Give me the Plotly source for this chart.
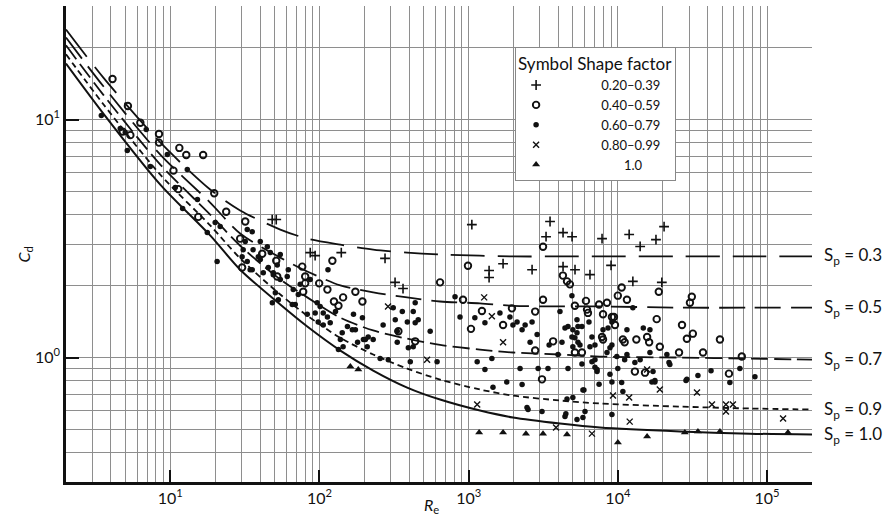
import math
import plotly.graph_objects as go

# Drag curves: Cd against particle Reynolds number for five sphericities
curve_re = [2.0, 3.56, 8.57, 18.5, 29.4, 54.6, 82.8, 138, 229, 387, 643, 1190,
            1980, 4090, 7580, 26100, 76700, 200000]
cd_sp03 = [23.9, 15.0, 8.01, 5.08, 4.15, 3.45, 3.16, 2.98, 2.84, 2.76, 2.71, 2.68,
           2.66, 2.66, 2.66, 2.66, 2.66, 2.66]
cd_sp05 = [22.1, 13.8, 7.13, 4.48, 3.32, 2.63, 2.30, 2.01, 1.88, 1.79, 1.72, 1.69,
           1.65, 1.64, 1.64, 1.62, 1.62, 1.62]
cd_sp07 = [20.5, 12.7, 6.47, 3.99, 2.95, 2.13, 1.79, 1.47, 1.30, 1.20, 1.13, 1.08,
           1.05, 1.03, 1.01, 1.00, 0.99, 0.98]
cd_sp09 = [18.8, 11.6, 5.87, 3.59, 2.61, 1.84, 1.50, 1.21, 1.03, 0.899, 0.808, 0.734,
           0.692, 0.660, 0.641, 0.622, 0.611, 0.605]
cd_sp10 = [17.2, 10.6, 5.33, 3.26, 2.34, 1.67, 1.35, 1.07, 0.882, 0.748, 0.666, 0.599,
           0.560, 0.528, 0.508, 0.489, 0.479, 0.475]
curve_labels = ["0.3", "0.5", "0.7", "0.9", "1.0"]

# Measured particles, grouped by shape factor
plus_re = [48.2, 51.3, 86.7, 93.5, 140, 275, 321, 363, 1050, 1370, 1370, 1700, 2660,
           3300, 3510, 4290, 4930, 4290, 5160, 6500, 7830, 9000, 11900, 12600, 14100,
           18000, 20400, 19700]
plus_cd = [3.80, 3.80, 2.76, 2.68, 2.76, 2.61, 2.07, 1.95, 3.62, 2.32, 2.17, 2.48, 2.34,
           3.22, 3.73, 3.35, 3.22, 2.41, 2.34, 2.23, 3.16, 2.44, 3.29, 2.09, 2.93,
           3.13, 3.55, 2.07]

circ_re = [4.1, 5.2, 4.8, 5.4, 6.3, 8.4, 8.4, 11.5, 12.8, 16.6, 10.5, 11.3, 19.7, 15.4,
           23.7, 29.4, 30.3, 31.8, 41.3, 51.3, 52.1, 76.6, 80.2, 80.2, 77.8, 99.5, 113,
           122, 125, 134, 144, 174, 194, 338, 438, 643, 989, 916, 1036, 1227, 1700,
           1950, 2790, 3150, 3150, 2790, 3680, 3100, 4280, 4560, 4770, 5150, 6110, 6300,
           5150, 5740, 7480, 7950, 8450, 9410, 9560, 9990, 10600, 11500, 11100, 13300,
           15700, 16200, 15200, 13000, 18800, 18200, 19100, 25700, 26900, 29000, 31800,
           31300, 30400, 37200, 48300, 55500, 67700, 6210, 9120, 7830, 7950, 10800]
circ_cd = [14.8, 11.4, 8.9, 8.6, 9.7, 8.7, 8.0, 7.6, 7.1, 7.1, 6.1, 5.1, 4.9, 3.9,
           4.1, 3.16, 2.39, 3.73, 2.73, 2.55, 2.19, 2.41, 2.19, 2.05, 1.89, 2.05, 1.93,
           2.55, 1.72, 1.65, 1.79, 1.89, 1.72, 1.29, 1.17, 2.07, 2.43, 1.75, 1.32, 1.57,
           1.37, 1.61, 1.07, 2.92, 1.75, 1.56, 1.17, 0.81, 2.21, 2.09, 2.03, 1.65, 1.73,
           1.54, 1.05, 1.05, 1.67, 1.52, 1.70, 1.48, 1.37, 1.82, 1.97, 1.75, 1.16, 1.19,
           1.22, 1.16, 0.864, 0.873, 1.89, 1.45, 1.11, 1.05, 1.37, 1.20, 1.26, 1.80,
           1.70, 1.05, 1.19, 0.856, 1.01, 1.59, 1.48, 1.22, 1.19, 1.19]

dot_re = [3.45, 4.62, 4.99, 6.9, 5.15, 7.34, 9.55, 13.0, 10.8, 12.1, 15.2, 17.7, 20.0,
          21.6, 20.6, 32.8, 31.8, 35.4, 30.3, 35.9, 40.1, 44.7, 46.8, 42.0, 49.0, 35.4,
          32.8, 52.1, 40.1, 30.8, 34.3, 38.9, 45.4, 49.0, 54.6, 60.8, 61.8, 54.6, 50.6,
          66.7, 72.1, 74.3, 96.5, 86.7, 101, 93.6, 106, 113, 118, 98, 106, 128, 142,
          138, 154, 169, 174, 180, 197, 212, 229, 209, 144, 134, 68.8, 53.0, 82.8, 48.3,
          65.7, 267, 322, 388, 425, 459, 332, 255, 289, 406, 614, 552, 394, 194, 312,
          359, 438, 332, 425, 438, 810, 875, 166, 203, 114,
          1100, 1285, 1140, 1430, 1285, 1455, 1800, 2210, 2280, 2580, 2500, 2920, 3400,
          3100, 2660, 2390, 1980, 2280, 1620, 1890, 2110, 2875, 4090, 4220, 4630, 4920,
          4990, 5320, 5150, 5400, 5740, 5320, 4630, 4420, 5320, 5830, 4560, 5920, 4990,
          6700, 7020, 7250, 7480, 8450, 9120, 7950, 8590, 6700, 6500, 9840, 10600,
          10800, 9120, 9990, 11500, 13000, 14100, 16400, 17700, 12600, 11500, 9120,
          3460, 3970, 4420, 4920, 4990, 5570, 5400, 7020, 5740, 7020, 21300, 22000,
          17200, 17700, 14800, 28600, 34400, 42100, 56300, 65700, 82900, 6400, 8850,
          7250, 9120, 8850, 11100, 16900, 22300, 29000, 16400, 5830, 6020, 4480, 2460]
dot_cd = [10.4, 9.17, 8.82, 9.08, 7.41, 6.35, 7.13, 6.17, 5.18, 4.23, 4.61, 3.35, 3.69,
          3.55, 2.53, 3.45, 3.07, 3.38, 2.65, 2.84, 2.58, 2.92, 2.76, 2.27, 2.27, 2.34,
          2.53, 2.45, 3.07, 2.84, 2.34, 2.65, 2.39, 2.23, 2.13, 2.19, 2.34, 2.71, 1.87,
          1.93, 1.84, 2.03, 1.70, 2.13, 1.64, 1.54, 1.54, 1.48, 1.40, 1.41, 1.37, 1.56,
          1.27, 1.19, 1.35, 1.52, 1.31, 1.16, 1.19, 1.22, 1.19, 1.11, 1.11, 1.08, 1.67,
          1.75, 1.52, 1.70, 1.67, 1.37, 1.44, 1.41, 1.56, 1.44, 1.29, 0.99, 0.98, 0.96,
          0.96, 1.29, 1.10, 1.47, 1.62, 1.56, 1.40, 1.16, 1.11, 1.70, 1.80, 1.48, 1.31,
          1.19, 2.34,
          1.47, 1.40, 0.96, 0.99, 0.89, 0.75, 0.79, 0.90, 0.77, 1.16, 0.605, 0.90, 0.90,
          0.593, 1.41, 1.37, 1.37, 1.31, 1.54, 1.48, 1.41, 1.25, 1.56, 1.16, 1.35, 1.82,
          1.31, 1.27, 1.21, 1.16, 1.35, 1.44, 0.90, 0.565, 0.549, 0.56, 0.67, 0.73, 0.68,
          0.96, 0.91, 0.873, 0.772, 1.05, 1.13, 1.31, 1.33, 1.22, 1.11, 1.01, 0.786,
          0.72, 0.576, 0.90, 1.03, 0.953, 0.98, 1.05, 0.79, 1.62, 1.31, 1.41,
          1.13, 1.03, 1.33, 1.22, 1.11, 1.13, 1.35, 1.13, 0.94, 0.98, 1.03, 0.953,
          0.873, 0.80, 1.33, 0.80, 0.84, 0.88, 0.786, 0.90, 0.83, 1.41, 1.10,
          0.89, 0.79, 0.85, 0.98, 0.79, 0.935, 0.81, 1.31, 0.73, 0.593, 0.58, 0.617]

xs_re = [288, 526, 1140, 1270, 1430, 1700, 3850, 6700, 9270, 11900, 12000, 15700,
         19100, 33900, 42700, 53000, 59000, 53000, 128000]
xs_cd = [1.64, 0.98, 0.635, 1.79, 1.49, 1.16, 0.508, 0.479, 0.692, 0.679, 0.538, 0.89,
         0.734, 0.713, 0.635, 0.635, 0.635, 0.593, 0.554]

tri_re = [161, 182, 1175, 1700, 2420, 3150, 4560, 10000, 15700, 28100, 34400, 48300,
          138000]
tri_cd = [0.917, 0.89, 0.484, 0.484, 0.479, 0.479, 0.475, 0.44, 0.466, 0.484, 0.489,
          0.489, 0.484]

shape_classes = ["0.20–0.39", "0.40–0.59", "0.60–0.79", "0.80–0.99", "1.0"]

ink = "#111111"
font_family = "Lato, 'Open Sans', sans-serif"
FIG_SP = "\u2007"  # figure space, used to centre legend entries under the heading


def legend_name(label):
    widest = max(len(s) for s in shape_classes)
    pad = 6 + (widest - len(label)) // 2
    return FIG_SP * pad + label


fig = go.Figure()

curve_sets = [
    (cd_sp03, "34px,13px", 1.8),
    (cd_sp05, "26px,10px", 1.8),
    (cd_sp07, "17px,6px", 1.8),
    (cd_sp09, "6px,4px", 1.8),
    (cd_sp10, "solid", 2.0),
]
for cd, dash, w in curve_sets:
    fig.add_trace(go.Scatter(
        x=curve_re, y=cd, mode="lines",
        line=dict(color=ink, width=w, dash=dash, shape="spline", smoothing=0.8),
        showlegend=False, hoverinfo="skip"))

markers = [
    dict(symbol="cross-thin", size=7, line=dict(width=1.6, color=ink)),
    dict(symbol="circle-open", size=6.5, line=dict(width=1.9, color="#2a2a2a")),
    dict(symbol="circle", size=5.5, color=ink, line=dict(width=0)),
    dict(symbol="x-thin", size=6, line=dict(width=1.4, color=ink)),
    dict(symbol="triangle-up", size=7, color=ink, line=dict(width=0)),
]
series = [(plus_re, plus_cd), (circ_re, circ_cd), (dot_re, dot_cd),
          (xs_re, xs_cd), (tri_re, tri_cd)]
for (xs, ys), name, marker in zip(series, shape_classes, markers):
    marker.setdefault("color", ink)
    fig.add_trace(go.Scatter(x=xs, y=ys, mode="markers", name=legend_name(name),
                             marker=marker))

# S_p labels at the right-hand end of each curve (log axis: position in log10 units)
for cd, lab in zip([cd_sp03, cd_sp05, cd_sp07, cd_sp09, cd_sp10], curve_labels):
    fig.add_annotation(
        x=1, xref="paper", y=math.log10(cd[-1]), yref="y",
        xshift=10, xanchor="left", yanchor="middle", showarrow=False,
        text=f"S<sub>p</sub> = {lab}", font=dict(size=17, color=ink, family=font_family))

# axis titles
fig.add_annotation(x=0, xref="paper", xshift=-54, y=0.477, yref="paper",
                   text="<i>C</i><sub>d</sub>", textangle=-90, showarrow=False,
                   font=dict(size=16, color=ink, family=font_family))
fig.add_annotation(x=0.4906, xref="paper", y=0, yref="paper", yshift=-36,
                   text="<i>R</i><sub>e</sub>", showarrow=False,
                   font=dict(size=16, color=ink, family=font_family))

x_ticks = [10, 100, 1000, 10000, 100000]
y_ticks = [1, 10]
grid = "#8e8e8e"

fig.update_xaxes(
    type="log", range=[0.30103, 5.30103],
    tickvals=x_ticks, ticktext=[f"10<sup>{i}</sup>" for i in range(1, 6)],
    ticks="inside", ticklen=12, tickwidth=2, tickcolor=ink,
    showline=True, linecolor=ink, linewidth=2.5, mirror=False,
    showgrid=True, gridcolor=grid, gridwidth=1,
    minor=dict(dtick="D1", showgrid=True, gridcolor=grid, gridwidth=1, ticks=""),
    tickfont=dict(size=16, color=ink, family=font_family),
    zeroline=False)
fig.update_yaxes(
    type="log", range=[-0.52288, 1.47712],
    tickvals=y_ticks, ticktext=["10<sup>0</sup>", "10<sup>1</sup>"],
    ticks="inside", ticklen=13, tickwidth=2, tickcolor=ink,
    showline=True, linecolor=ink, linewidth=2.5, mirror=False,
    showgrid=True, gridcolor=grid, gridwidth=1,
    minor=dict(dtick="D1", showgrid=True, gridcolor=grid, gridwidth=1, ticks=""),
    tickfont=dict(size=16, color=ink, family=font_family),
    zeroline=False)

fig.update_layout(
    width=889, height=526,
    margin=dict(l=66, r=77, t=6, b=44),
    paper_bgcolor="white", plot_bgcolor="white",
    font=dict(family=font_family, color=ink),
    legend=dict(
        x=0.602, y=0.914, xanchor="left", yanchor="top",
        bgcolor="white", bordercolor="#888888", borderwidth=1,
        font=dict(size=13, color=ink, family=font_family),
        title=dict(text="Symbol Shape factor", font=dict(size=17, color=ink)),
        tracegroupgap=0),
    hovermode=False,
)

fig.write_html("out.html")
